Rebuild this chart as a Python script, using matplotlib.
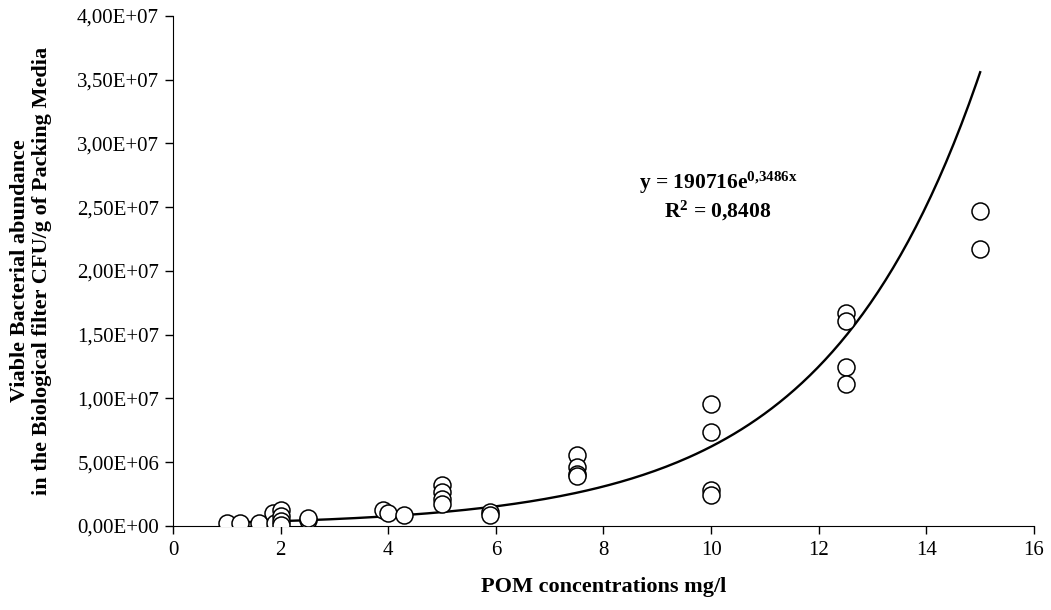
import matplotlib.pyplot as plt
import matplotlib.ticker as mticker
import numpy as np

plt.rcParams["font.family"] = ["Liberation Serif", "DejaVu Serif"]
plt.rcParams["mathtext.fontset"] = "custom"
plt.rcParams["mathtext.rm"] = "Liberation Serif:bold"
plt.rcParams["mathtext.bf"] = "Liberation Serif:bold"
plt.rcParams["mathtext.it"] = "Liberation Serif:bold"

# POM concentration (mg/l) and viable bacterial abundance (CFU/g)
pom = [1.0, 1.25, 1.6, 1.85, 1.9, 2.0, 2.0, 2.0, 2.0, 2.5, 2.5,
       3.9, 4.0, 4.3, 5.0, 5.0, 5.0, 5.0, 5.9, 5.9,
       7.5, 7.5, 7.5, 7.5, 10.0, 10.0, 10.0, 10.0,
       12.5, 12.5, 12.5, 12.5, 15.0, 15.0]
cfu = [2.4e5, 2.4e5, 2.0e5, 1.0e6, 2.0e5, 1.25e6, 8.0e5, 4.0e5, 1.0e5, 4.7e5, 6.0e5,
       1.25e6, 1.0e6, 8.6e5, 3.2e6, 2.7e6, 2.1e6, 1.7e6, 1.1e6, 8.6e5,
       5.6e6, 4.6e6, 4.1e6, 3.9e6, 9.6e6, 7.4e6, 2.8e6, 2.45e6,
       1.67e7, 1.61e7, 1.25e7, 1.11e7, 2.47e7, 2.17e7]

# exponential trendline y = a * exp(b x)
fit_a = 190716
fit_b = 0.3486
fit_x = np.linspace(1, 15, 200)

fig = plt.figure(figsize=(10.51, 6.10), dpi=100)
ax = fig.add_axes([0.1646, 0.1377, 0.8192, 0.8361])

ax.plot(fit_x, fit_a * np.exp(fit_b * fit_x), color="black", lw=1.7, zorder=2)
ax.scatter(pom, cfu, s=150, facecolors="white", edgecolors="black", linewidths=1.1, zorder=3)

ax.set_xlim(0, 16)
ax.set_ylim(0, 4e7)
ax.set_xticks(range(0, 17, 2))
ax.set_yticks(np.arange(0, 4.01e7, 5e6))
ax.yaxis.set_major_formatter(mticker.FuncFormatter(
    lambda v, p: ("%.2E" % v).replace(".", ",")))

for s in ["top", "right"]:
    ax.spines[s].set_visible(False)
ax.tick_params(labelsize=15, direction="out", length=6, width=1)
ax.tick_params(axis="x", pad=5)
ax.tick_params(axis="y", pad=4)

ax.set_xlabel("POM concentrations mg/l", fontsize=16, fontweight="bold", labelpad=12)
ax.set_ylabel("Viable Bacterial abundance\nin the Biological filter CFU/g of Packing Media",
              fontsize=16, fontweight="bold", labelpad=18, linespacing=1.15)

ax.text(10.13, 2.69e7, r"y = 190716e$^{0{,}3486x}$", fontsize=15.5, fontweight="bold", ha="center", va="center")
ax.text(10.13, 2.47e7, r"R$^{2}$ = 0,8408", fontsize=15.5, fontweight="bold", ha="center", va="center")

plt.savefig("out.png", dpi=100)
